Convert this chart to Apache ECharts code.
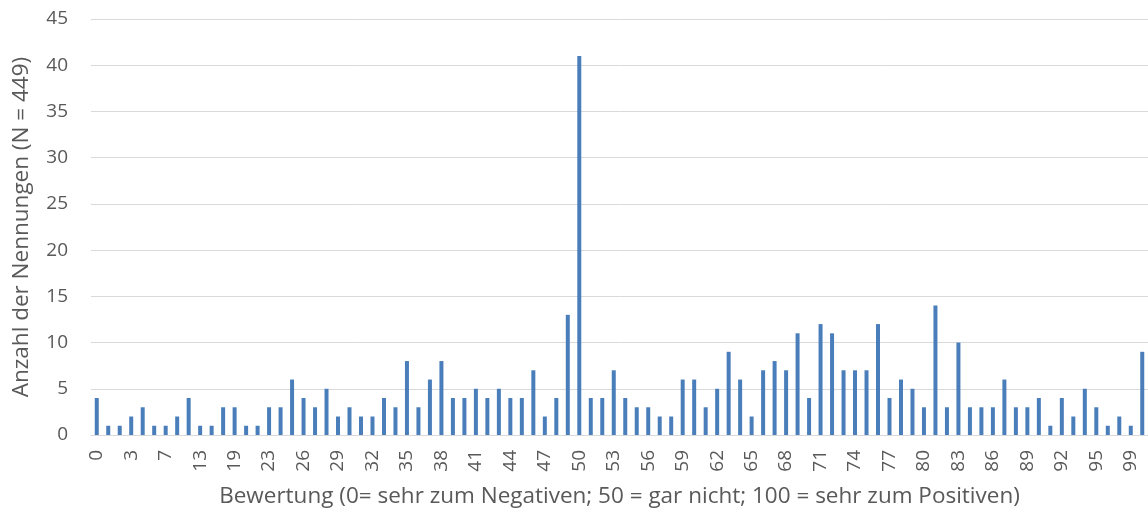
<!DOCTYPE html>
<html>
<head>
    <meta charset="utf-8">
    <title>Bewertung</title>
    <script src="https://cdn.jsdelivr.net/npm/echarts@6/dist/echarts.min.js"></script>
    <style>
        html, body { margin: 0; padding: 0; background: #fff; }
        #main { width: 1148px; height: 513px; }
    </style>
</head>
<body>
    <div id="main"></div>
    <script type="text/javascript">
// Bewertungen, die vorkommen (nur jede dritte ist beschriftet)
var bewertung = [
    0, 1, 2, 3, 4, 5, 7, 8, 10, 13, 15, 17, 19, 20, 21,
    23, 24, 25, 26, 27, 28, 29, 30, 31, 32, 33, 34, 35, 36, 37, 38, 39, 40,
    41, 42, 43, 44, 45, 46, 47, 48, 49, 50, 51, 52, 53, 54, 55, 56, 57, 58,
    59, 60, 61, 62, 63, 64, 65, 66, 67, 68, 69, 70, 71, 72, 73, 74, 75, 76,
    77, 78, 79, 80, 81, 82, 83, 84, 85, 86, 87, 88, 89, 90, 91, 92, 93, 94,
    95, 97, 98, 99, 100
];
// Anzahl der Nennungen
var nennungen = [
    4, 1, 1, 2, 3, 1, 1, 2, 4, 1, 1, 3, 3, 1, 1, 3, 3, 6, 4, 3, 5, 2, 3,
    2, 2, 4, 3, 8, 3, 6, 8, 4, 4, 5, 4, 5, 4, 4, 7, 2, 4, 13, 41, 4, 4, 7,
    4, 3, 3, 2, 2, 6, 6, 3, 5, 9, 6, 2, 7, 8, 7, 11, 4, 12, 11, 7, 7, 7, 12,
    4, 6, 5, 3, 14, 3, 10, 3, 3, 3, 6, 3, 3, 4, 1, 4, 2, 5, 3, 1, 2, 1, 9
];

var myChart = echarts.init(document.getElementById('main'));
var textColor = '#595959';
var font = '"Open Sans", sans-serif';

var option = {
    animation: false,
    grid: {
        left: 91, right: 0, top: 19, bottom: 78,
        containLabel: false,
        outerBoundsMode: 'none'
    },
    xAxis: {
        type: 'category',
        data: bewertung,
        name: 'Bewertung (0= sehr zum Negativen; 50 = gar nicht; 100 = sehr zum Positiven)',
        nameLocation: 'middle',
        nameGap: 50,
        nameTextStyle: { color: textColor, fontSize: 22.5, fontFamily: font },
        axisLine: { lineStyle: { color: '#d9d9d9', width: 1 } },
        axisTick: { show: false },
        axisLabel: {
            interval: 2,
            rotate: 90,
            margin: 15,
            color: textColor,
            fontSize: 19,
            fontFamily: font
        }
    },
    yAxis: {
        type: 'value',
        min: 0,
        max: 45,
        interval: 5,
        name: 'Anzahl der Nennungen (N = 449)',
        nameLocation: 'middle',
        nameGap: 58,
        nameTextStyle: { color: textColor, fontSize: 22.5, fontFamily: font },
        axisLine: { show: false },
        axisTick: { show: false },
        splitLine: { lineStyle: { color: '#d9d9d9', width: 1 } },
        axisLabel: { margin: 23, color: textColor, fontSize: 19, fontFamily: font }
    },
    series: [
        {
            type: 'bar',
            data: nennungen,
            barWidth: 4,
            itemStyle: { color: '#4a7ebb' }
        }
    ]
};

myChart.setOption(option);
    </script>
</body>
</html>
